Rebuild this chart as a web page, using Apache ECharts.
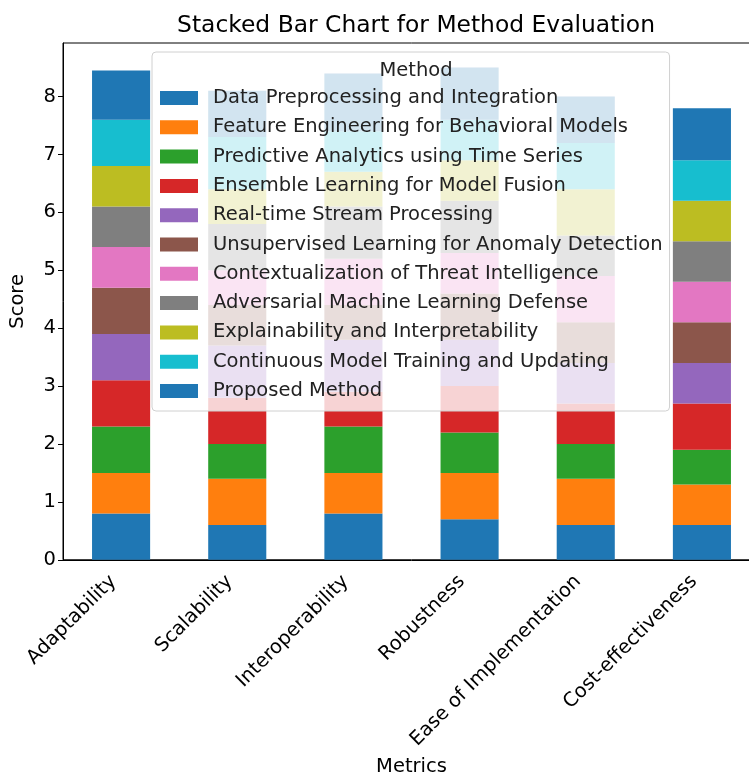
<!DOCTYPE html>
<html>
<head>
<meta charset="utf-8">
<title>Stacked Bar Chart for Method Evaluation</title>
<script src="https://cdn.jsdelivr.net/npm/echarts@6/dist/echarts.min.js"></script>
<style>
  html, body { margin: 0; padding: 0; background: #fff; overflow: hidden; width: 749px; height: 782px; }
  /* the plot frame runs slightly past the right edge of the page, so the canvas is wider */
  #chart { width: 780px; height: 782px; }
</style>
</head>
<body>
<div id="chart"></div>
<script>
// Evaluation metrics (x categories)
const metrics = ['Adaptability', 'Scalability', 'Interoperability', 'Robustness', 'Ease of Implementation', 'Cost-effectiveness'];

// Method names, stacked bottom to top
const methods = [
  'Data Preprocessing and Integration',
  'Feature Engineering for Behavioral Models',
  'Predictive Analytics using Time Series',
  'Ensemble Learning for Model Fusion',
  'Real-time Stream Processing',
  'Unsupervised Learning for Anomaly Detection',
  'Contextualization of Threat Intelligence',
  'Adversarial Machine Learning Defense',
  'Explainability and Interpretability',
  'Continuous Model Training and Updating',
  'Proposed Method'
];

// Scores per method, one value per metric
const dataPreprocessing   = [0.8, 0.6, 0.8, 0.7, 0.6, 0.6];
const featureEngineering  = [0.7, 0.8, 0.7, 0.8, 0.8, 0.7];
const predictiveAnalytics = [0.8, 0.6, 0.8, 0.7, 0.6, 0.6];
const ensembleLearning    = [0.8, 0.8, 0.6, 0.8, 0.7, 0.8];
const realtimeStream      = [0.8, 0.9, 0.9, 0.8, 0.7, 0.7];
const unsupervised        = [0.8, 0.7, 0.6, 0.8, 0.7, 0.7];
const contextualization   = [0.7, 0.6, 0.8, 0.7, 0.8, 0.7];
const adversarialDefense  = [0.7, 0.8, 0.9, 0.9, 0.7, 0.7];
const explainability      = [0.7, 0.6, 0.6, 0.7, 0.8, 0.7];
const continuousTraining  = [0.8, 0.9, 0.7, 0.7, 0.8, 0.7];
const proposedMethod      = [0.85, 0.8, 1.0, 0.9, 0.8, 0.9];

const seriesValues = [
  dataPreprocessing, featureEngineering, predictiveAnalytics, ensembleLearning,
  realtimeStream, unsupervised, contextualization, adversarialDefense,
  explainability, continuousTraining, proposedMethod
];

// Score axis ticks
const scoreTicks = [0, 1, 2, 3, 4, 5, 6, 7, 8];

// tab10 cycle (the eleventh series wraps back to the first colour)
const palette = ['#1f77b4', '#ff7f0e', '#2ca02c', '#d62728', '#9467bd',
                 '#8c564b', '#e377c2', '#7f7f7f', '#bcbd22', '#17becf', '#1f77b4'];

const FONT = 'DejaVu Sans';
const BASE = 19.5;   // body text size
const LARGE = 23.4;  // title size

// Upper limit leaves 5% headroom above the tallest stack
const totals = metrics.map((_, i) => seriesValues.reduce((s, arr) => s + arr[i], 0));
const yMax = Math.max(...totals) * 1.05;

const chart = echarts.init(document.getElementById('chart'), null, { renderer: 'canvas' });

chart.setOption({
  animation: false,
  color: palette,
  title: [
    {
      text: 'Stacked Bar Chart for Method Evaluation',
      left: 411, top: 9, textAlign: 'center',
      textStyle: { fontFamily: FONT, fontSize: LARGE, fontWeight: 'normal', color: '#000' }
    },
    {
      text: 'Method',
      left: 411, top: 56, textAlign: 'center',
      textStyle: { fontFamily: FONT, fontSize: BASE, fontWeight: 'normal', color: '#222' }
    }
  ],
  grid: {
    left: 63, right: 20, top: 43, bottom: 220,
    show: true, borderColor: '#000', borderWidth: 1, backgroundColor: 'transparent'
  },
  legend: {
    orient: 'vertical',
    left: 152, top: 52,
    padding: [36, 7, 10, 8],
    itemWidth: 38, itemHeight: 14, itemGap: 9.3,
    selectedMode: false,
    backgroundColor: 'rgba(255,255,255,0.8)',
    borderColor: '#d0d0d0', borderWidth: 1, borderRadius: 4,
    icon: 'rect',
    textStyle: { fontFamily: FONT, fontSize: BASE, lineHeight: 20, color: '#222', padding: [0, 0, 0, 10] },
    data: methods
  },
  xAxis: {
    type: 'category',
    data: metrics,
    name: 'Metrics',
    nameLocation: 'middle',
    nameGap: 197,
    nameTextStyle: { fontFamily: FONT, fontSize: BASE, color: '#000' },
    axisLine: { lineStyle: { color: '#000', width: 1 } },
    axisTick: { alignWithLabel: true, length: 5, lineStyle: { color: '#000' } },
    axisLabel: {
      rotate: 45, margin: 11, padding: [0, 11, 0, 0],
      fontFamily: FONT, fontSize: BASE, color: '#000', interval: 0
    },
    splitLine: { show: false }
  },
  yAxis: {
    type: 'value',
    min: 0, max: yMax, interval: 1,
    name: 'Score',
    nameLocation: 'middle',
    nameGap: 35,
    nameRotate: 90,
    nameTextStyle: { fontFamily: FONT, fontSize: BASE, color: '#000' },
    axisLine: { show: true, lineStyle: { color: '#000', width: 1 } },
    axisTick: { show: true, length: 5, lineStyle: { color: '#000' }, customValues: scoreTicks },
    axisLabel: {
      margin: 7, fontFamily: FONT, fontSize: BASE, color: '#000', customValues: scoreTicks
    },
    splitLine: { show: false }
  },
  series: methods.map((name, k) => ({
    name,
    type: 'bar',
    stack: 'total',
    barWidth: '50%',
    data: seriesValues[k],
    itemStyle: { color: palette[k] }
  }))
});
</script>
</body>
</html>
